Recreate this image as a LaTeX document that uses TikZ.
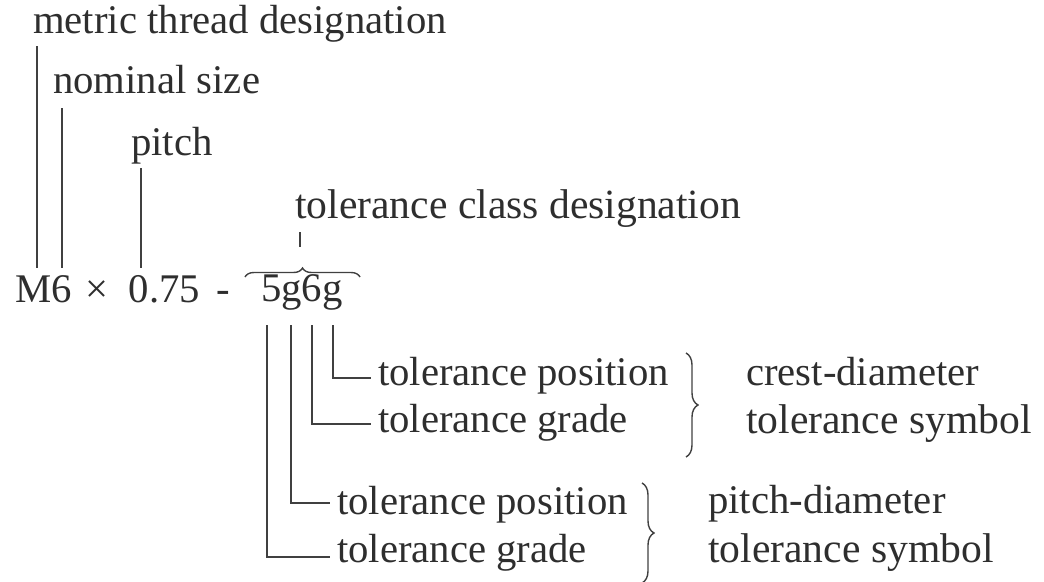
\documentclass[tikz,border=0pt]{standalone}
\usepackage{fontspec}
\setmainfont{Liberation Serif}
\usetikzlibrary{decorations.pathreplacing}
\begin{document}
\begin{tikzpicture}[x=1pt,y=-1pt,
  lbl/.style={anchor=base west,inner sep=0pt,text=black!82,font=\fontsize{40.7}{48}\selectfont},
  lblw/.style={lbl,font=\fontsize{41.6}{48}\selectfont},
  ln/.style={draw=black!75,line width=1.6pt},
  rbrace/.style={draw=black!75,line width=1.4pt,decorate,decoration={brace,amplitude=12pt}},
  obrace/.style={draw=black!75,line width=1.4pt,decorate,decoration={brace,amplitude=9pt}}]
\useasboundingbox (0,0) rectangle (1044,581);
% labels
\node[lbl] (mtd) at (33,33) {metric thread designation};
\node[lbl] (nom) at (53,93) {nominal size};
\node[lbl] (pit) at (131,155) {pitch};
\node[lblw] (tcd) at (295,218) {tolerance class designation};
\node[lbl] (des) at (15,302) {M6\hspace{14pt}×\hspace{20pt}0.75\hspace{17pt}-};
\node[lbl] (tol) at (261,301) {5g6g};
\node[lbl] (tp1) at (378,385) {tolerance position};
\node[lbl] (tg1) at (378,432) {tolerance grade};
\node[lbl] (cd)  at (746,385) {crest-diameter};
\node[lblw] (ts1) at (746,433) {tolerance symbol};
\node[lbl] (tp2) at (337,514) {tolerance position};
\node[lbl] (tg2) at (337,562) {tolerance grade};
\node[lbl] (pd)  at (708,513) {pitch-diameter};
\node[lblw] (ts2) at (708,562) {tolerance symbol};
% coordinates
\coordinate (a1) at (37,46);   \coordinate (a2) at (37,268);
\coordinate (b1) at (62,108);  \coordinate (b2) at (62,268);
\coordinate (c1) at (141,168); \coordinate (c2) at (141,268);
\coordinate (d1) at (300,232); \coordinate (d2) at (300,247);
\coordinate (g1) at (333,325); \coordinate (g1b) at (333,378);
\coordinate (s1) at (312,325); \coordinate (s1b) at (312,424);
\coordinate (g2) at (291,325); \coordinate (g2b) at (291,503);
\coordinate (f2) at (267,325); \coordinate (f2b) at (267,557);
% connectors
\draw[ln] (a1) -- (a2);
\draw[ln] (b1) -- (b2);
\draw[ln] (c1) -- (c2);
\draw[ln] (d1) -- (d2);
\draw[ln] (g1) -- (g1b) -- ([xshift=-7pt]tp1.west |- g1b);
\draw[ln] (s1) -- (s1b) -- ([xshift=-7pt]tg1.west |- s1b);
\draw[ln] (g2) -- (g2b) -- ([xshift=-7pt]tp2.west |- g2b);
\draw[ln] (f2) -- (f2b) -- ([xshift=-7pt]tg2.west |- f2b);
% braces
\draw[obrace] (245,277) -- (360,277);
\draw[rbrace] (686,353) -- (686,457);
\draw[rbrace] (642,483) -- (642,583);
\end{tikzpicture}
\end{document}
